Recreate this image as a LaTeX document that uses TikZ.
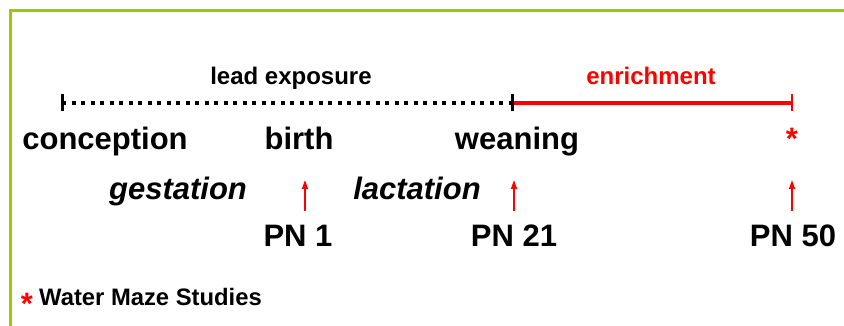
\documentclass[tikz,border=0pt]{standalone}
\usepackage{fontspec}
\setmainfont{Liberation Sans}
\usetikzlibrary{arrows.meta}

\definecolor{framegreen}{RGB}{153,204,0}
\definecolor{mazered}{RGB}{255,0,0}

\begin{document}
\begin{tikzpicture}[x=1pt,y=-1pt,
    big/.style={font=\bfseries\fontsize{31}{31}\selectfont, inner sep=0pt, anchor=base},
    phase/.style={big, font=\bfseries\itshape\fontsize{31}{31}\selectfont},
    period/.style={font=\bfseries\fontsize{24}{24}\selectfont, inner sep=0pt, anchor=base},
    note/.style={font=\bfseries\fontsize{23.8}{23.8}\selectfont, inner sep=0pt, anchor=base west},
    tick/.style={line width=3pt},
    pnarrow/.style={mazered, line width=1.4pt, -{Triangle[length=9pt,width=6pt]}}]

      \useasboundingbox (0,0) rectangle (844,326);

      % Frame
      \draw[framegreen, line width=3pt] (10.5,326) -- (10.5,11) -- (844,11);

      % Define nodes
      \coordinate (conc-t)  at (62,103);
      \coordinate (wean-t)  at (512,103);
      \coordinate (end-t)   at (792,103);

      \node[period]                  (lead)   at (291,85)  {lead exposure};
      \node[period, text=mazered]    (enrich) at (651,85)  {enrichment};

      \node[big]                     (conc)   at (105,150) {conception};
      \node[big]                     (birth)  at (299,150) {birth};
      \node[big]                     (wean)   at (517,150) {weaning};
      \node[big, text=mazered]       (star)   at (792,150) {*};

      \node[phase]                   (gest)   at (178,200) {gestation};
      \node[phase]                   (lact)   at (417,200) {lactation};

      \node[big]                     (pn-1)   at (298,247) {PN 1};
      \node[big]                     (pn-21)  at (514,247) {PN 21};
      \node[big]                     (pn-50)  at (793,247) {PN 50};

      \coordinate (pn-1-tail)  at (305,211);
      \coordinate (pn-1-tip)   at (305,180);
      \coordinate (pn-21-tail) at (514,211);
      \coordinate (pn-21-tip)  at (514,180);
      \coordinate (pn-50-tail) at (792,211);
      \coordinate (pn-50-tip)  at (792,180);

      \node[big, anchor=base, text=mazered] (key-star) at (27,314) {*};
      \node[note]                    (key)    at (39,305)  {Water Maze Studies};

      % Connect the nodes
      \draw[line width=4pt, dash pattern=on 4pt off 5.5pt] (conc-t) -- (wean-t);
      \draw[mazered, line width=4.5pt] (wean-t) -- (end-t);
      \draw[tick] ([yshift=-8.5pt]conc-t) -- ([yshift=8.5pt]conc-t);
      \draw[tick] ([yshift=-8.5pt]wean-t) -- ([yshift=8.5pt]wean-t);
      \draw[tick, mazered, line width=2.5pt] ([yshift=-8.5pt]end-t) -- ([yshift=8.5pt]end-t);

      \draw[pnarrow] (pn-1-tail) -- (pn-1-tip);
      \draw[pnarrow] (pn-21-tail) -- (pn-21-tip);
      \draw[pnarrow] (pn-50-tail) -- (pn-50-tip);

\end{tikzpicture}
\end{document}
